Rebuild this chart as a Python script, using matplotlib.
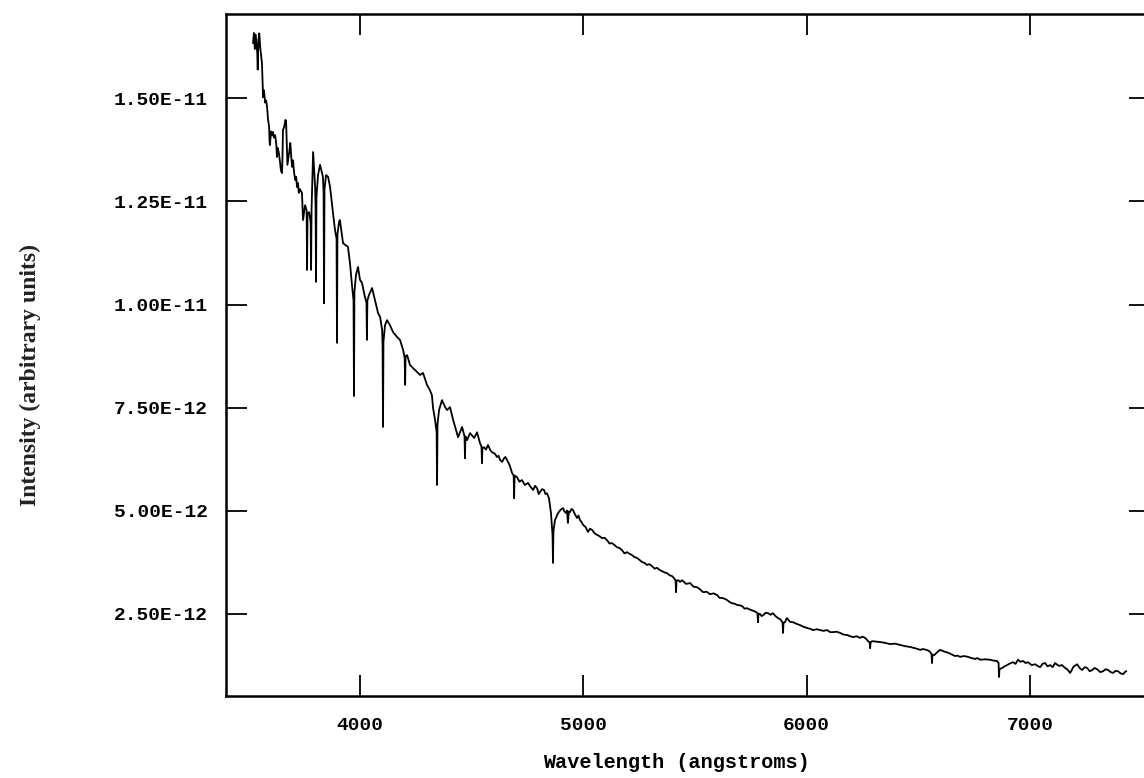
import matplotlib
matplotlib.use("Agg")
import matplotlib.pyplot as plt
from matplotlib.ticker import FuncFormatter, FixedLocator

# Spectrum: wavelength (angstroms), intensity (units of 1e-12)
# Blue part (strong Balmer lines)
wavelength_blue = [
    3521, 3525, 3529, 3533, 3537, 3540, 3542, 3545, 3549, 3553, 3557, 3561, 3564, 3566,
    3570, 3575, 3580, 3584, 3588, 3593, 3595, 3597, 3601, 3606, 3610, 3615, 3620, 3625,
    3628, 3631, 3636, 3642, 3646, 3651, 3653, 3655, 3660, 3666, 3669, 3672, 3675, 3678,
    3683, 3688, 3692, 3696, 3700, 3705, 3710, 3714, 3718, 3722, 3726, 3731, 3740, 3745,
    3754, 3761, 3763, 3765, 3772, 3779, 3781, 3783, 3790, 3799, 3801, 3803, 3805, 3812,
    3821, 3834, 3837, 3839, 3841, 3848, 3857, 3866, 3879, 3888, 3895, 3897, 3899, 3906,
    3910, 3924, 3933, 3946, 3955, 3964, 3971, 3973, 3975, 3982, 3991, 4000, 4009, 4022,
    4029, 4031, 4033, 4040, 4054, 4067, 4081, 4090, 4099, 4101, 4103, 4105, 4112, 4121,
    4134, 4148, 4166, 4179, 4193, 4200, 4202, 4204, 4211, 4224, 4237, 4255, 4269, 4282,
    4300, 4313, 4322, 4327, 4336, 4343, 4345, 4347, 4354, 4367, 4381, 4390, 4403, 4417,
    4430, 4439, 4457, 4468, 4470, 4472, 4479, 4493, 4511, 4524, 4537, 4544, 4546, 4548,
]
intensity_blue = [
    16.35, 16.59, 16.20, 16.55, 16.30, 16.10, 15.70, 16.40, 16.58, 16.25, 16.05, 15.86, 15.40, 15.03,
    15.20, 14.90, 14.95, 14.79, 14.50, 14.31, 13.95, 13.87, 14.20, 14.10, 14.19, 14.05, 14.11, 13.90,
    13.58, 13.80, 13.70, 13.45, 13.25, 13.19, 13.60, 14.24, 14.30, 14.48, 14.45, 13.90, 13.39, 13.50,
    13.70, 13.92, 13.60, 13.34, 13.50, 13.20, 13.02, 13.10, 12.85, 12.95, 12.71, 12.80, 12.71, 12.05,
    12.41, 12.29, 10.84, 12.20, 12.24, 12.00, 10.84, 12.30, 13.70, 12.85, 12.40, 10.55, 12.60, 13.14,
    13.39, 13.10, 12.70, 10.03, 12.80, 13.14, 13.10, 12.85, 12.22, 11.81, 11.60, 9.07, 11.70, 12.00,
    12.05, 11.49, 11.45, 11.40, 11.01, 10.47, 10.10, 7.78, 10.30, 10.72, 10.91, 10.60, 10.52, 10.18,
    10.05, 9.14, 10.10, 10.23, 10.40, 10.11, 9.79, 9.70, 9.38, 9.00, 7.03, 9.10, 9.50, 9.62,
    9.50, 9.33, 9.21, 9.14, 8.90, 8.70, 8.05, 8.75, 8.77, 8.53, 8.46, 8.36, 8.29, 8.34,
    8.05, 7.92, 7.80, 7.49, 7.20, 6.90, 5.62, 7.10, 7.44, 7.68, 7.51, 7.44, 7.51, 7.20,
    6.95, 6.78, 7.03, 6.80, 6.27, 6.80, 6.71, 6.88, 6.76, 6.90, 6.64, 6.55, 6.15, 6.50,
]
# Green part (H-beta)
wavelength_green = [
    4555, 4564, 4573, 4585, 4596, 4604, 4613, 4620, 4627, 4636,
    4645, 4651, 4658, 4670, 4681, 4688, 4690, 4692, 4703, 4714,
    4725, 4738, 4752, 4763, 4775, 4784, 4793, 4800, 4806, 4815,
    4824, 4830, 4837, 4846, 4855, 4862, 4864, 4866, 4873,
]
intensity_green = [
    6.54, 6.48, 6.59, 6.45, 6.40, 6.38, 6.30, 6.33, 6.23, 6.18,
    6.27, 6.30, 6.23, 6.10, 5.91, 5.85, 5.30, 5.85, 5.81, 5.70,
    5.74, 5.62, 5.67, 5.58, 5.50, 5.60, 5.54, 5.40, 5.45, 5.52,
    5.50, 5.40, 5.42, 5.30, 4.94, 4.40, 3.73, 4.50, 4.77,
]
# Red part
wavelength_red = [
    4887, 4898, 4909, 4915, 4922, 4927, 4931, 4935, 4940, 4947,
    4954, 4963, 4972, 4978, 4985, 4992, 4999, 5010, 5021, 5030,
    5039, 5050, 5061, 5072, 5084, 5095, 5106, 5117, 5128, 5140,
    5151, 5162, 5173, 5184, 5196, 5207, 5218, 5229, 5240, 5252,
    5263, 5274, 5285, 5296, 5308, 5319, 5330, 5341, 5352, 5363,
    5375, 5386, 5397, 5406, 5413, 5415, 5417, 5424, 5433, 5442,
    5460, 5478, 5494, 5509, 5522, 5536, 5552, 5567, 5583, 5599,
    5610, 5621, 5632, 5643, 5655, 5666, 5677, 5688, 5700, 5711,
    5722, 5733, 5744, 5755, 5764, 5773, 5780, 5782, 5784, 5791,
    5798, 5805, 5816, 5827, 5838, 5849, 5860, 5872, 5879, 5885,
    5892, 5894, 5896, 5903, 5908, 5912, 5925, 5939, 5955, 5970,
    5985, 6002, 6015, 6029, 6045, 6060, 6075, 6091, 6105, 6118,
    6134, 6150, 6165, 6181, 6195, 6208, 6224, 6239, 6250, 6262,
    6275, 6282, 6284, 6286, 6293, 6311, 6329, 6350, 6373, 6395,
    6418, 6440, 6463, 6485, 6508, 6521, 6535, 6545, 6552, 6559,
    6561, 6563, 6570, 6584, 6597, 6615, 6633, 6648, 6664, 6675,
    6687, 6705, 6722, 6738, 6754, 6765, 6776, 6798, 6821, 6836,
    6852, 6859, 6861, 6863, 6875, 6886, 6897, 6910, 6924, 6935,
    6946, 6957, 6969, 6980, 6991, 7007, 7023, 7034, 7045, 7056,
    7067, 7078, 7090, 7101, 7112, 7121, 7130, 7143, 7157, 7168,
    7179, 7186, 7193, 7202, 7211, 7222, 7233, 7245, 7256, 7267,
    7278, 7289, 7300, 7314, 7327, 7338, 7350, 7361, 7372, 7383,
    7394, 7405, 7417, 7424, 7430,
]
intensity_red = [
    4.94, 5.02, 5.06, 4.98, 4.94, 5.00, 4.70, 4.98, 4.96, 5.04,
    5.01, 4.90, 4.82, 4.88, 4.77, 4.72, 4.65, 4.60, 4.48, 4.56,
    4.53, 4.45, 4.41, 4.38, 4.33, 4.34, 4.28, 4.20, 4.21, 4.16,
    4.11, 4.09, 4.04, 3.96, 3.99, 3.95, 3.92, 3.87, 3.85, 3.80,
    3.75, 3.73, 3.68, 3.70, 3.65, 3.59, 3.61, 3.56, 3.53, 3.50,
    3.48, 3.43, 3.41, 3.36, 3.30, 3.02, 3.30, 3.31, 3.27, 3.31,
    3.22, 3.24, 3.15, 3.14, 3.09, 3.02, 3.03, 2.97, 2.99, 2.95,
    2.88, 2.88, 2.86, 2.83, 2.78, 2.75, 2.74, 2.71, 2.70, 2.68,
    2.62, 2.63, 2.60, 2.58, 2.56, 2.54, 2.50, 2.29, 2.50, 2.49,
    2.44, 2.46, 2.52, 2.51, 2.47, 2.51, 2.44, 2.39, 2.37, 2.34,
    2.28, 2.03, 2.28, 2.29, 2.36, 2.39, 2.30, 2.29, 2.25, 2.22,
    2.18, 2.15, 2.13, 2.10, 2.12, 2.10, 2.08, 2.10, 2.05, 2.05,
    2.06, 2.03, 1.99, 1.98, 1.95, 1.93, 1.95, 1.91, 1.94, 1.91,
    1.83, 1.80, 1.66, 1.80, 1.83, 1.82, 1.81, 1.79, 1.76, 1.77,
    1.74, 1.71, 1.69, 1.66, 1.62, 1.64, 1.62, 1.60, 1.57, 1.52,
    1.30, 1.50, 1.49, 1.56, 1.62, 1.58, 1.55, 1.51, 1.47, 1.48,
    1.45, 1.47, 1.45, 1.42, 1.40, 1.42, 1.38, 1.39, 1.38, 1.36,
    1.35, 1.30, 0.96, 1.15, 1.18, 1.22, 1.25, 1.29, 1.32, 1.28,
    1.38, 1.33, 1.35, 1.30, 1.32, 1.25, 1.27, 1.23, 1.20, 1.28,
    1.30, 1.22, 1.25, 1.20, 1.30, 1.26, 1.23, 1.25, 1.18, 1.14,
    1.06, 1.12, 1.20, 1.24, 1.27, 1.18, 1.13, 1.20, 1.18, 1.10,
    1.13, 1.18, 1.15, 1.08, 1.10, 1.15, 1.13, 1.08, 1.06, 1.11,
    1.10, 1.05, 1.03, 1.08, 1.10,
]

x_ticks = [4000, 5000, 6000, 7000]
y_ticks = [2.5e-12, 5.0e-12, 7.5e-12, 1.0e-11, 1.25e-11, 1.5e-11]

wavelength = wavelength_blue + wavelength_green + wavelength_red
intensity = [v * 1e-12 for v in intensity_blue + intensity_green + intensity_red]

W, H = 1144, 778
fig = plt.figure(figsize=(W / 100, H / 100), dpi=100)
left_px, right_px, top_px, bottom_px = 226, 1150, 14, 696
ax = fig.add_axes([left_px / W, 1 - bottom_px / H,
                   (right_px - left_px) / W, (bottom_px - top_px) / H])

ax.plot(wavelength, intensity, color="black", linewidth=1.3)

ax.set_xlim(3400, 7537)
ax.set_ylim(0.50e-12, 1.705e-11)

ax.xaxis.set_major_locator(FixedLocator(x_ticks))
ax.yaxis.set_major_locator(FixedLocator(y_ticks))
ax.yaxis.set_major_formatter(FuncFormatter(lambda v, p: f"{v:.2E}"))
ax.xaxis.set_major_formatter(FuncFormatter(lambda v, p: f"{int(v)}"))

ax.tick_params(axis="both", which="major", direction="in", length=15, width=1.3,
               top=True, right=True)
ax.tick_params(axis="x", pad=15)
ax.tick_params(axis="y", pad=13)
for lab in ax.get_xticklabels() + ax.get_yticklabels():
    lab.set_fontfamily("Liberation Mono")
    lab.set_fontweight("bold")
    lab.set_fontsize(14)

for s in ax.spines.values():
    s.set_linewidth(1.8)
    s.set_color("black")

ax.set_xlabel("Wavelength (angstroms)", fontfamily="Liberation Mono",
              fontweight="bold", fontsize=14.5)
ax.xaxis.set_label_coords(0.487, -0.097)
ax.xaxis.label.set_va("center")

ax.set_ylabel("Intensity (arbitrary units)", fontfamily="Liberation Serif",
              fontweight="bold", fontsize=17, color="#222222")
ax.yaxis.set_label_coords(-0.212, 0.47)
ax.yaxis.label.set_va("center")

fig.savefig("out.png", dpi=100, facecolor="white")
